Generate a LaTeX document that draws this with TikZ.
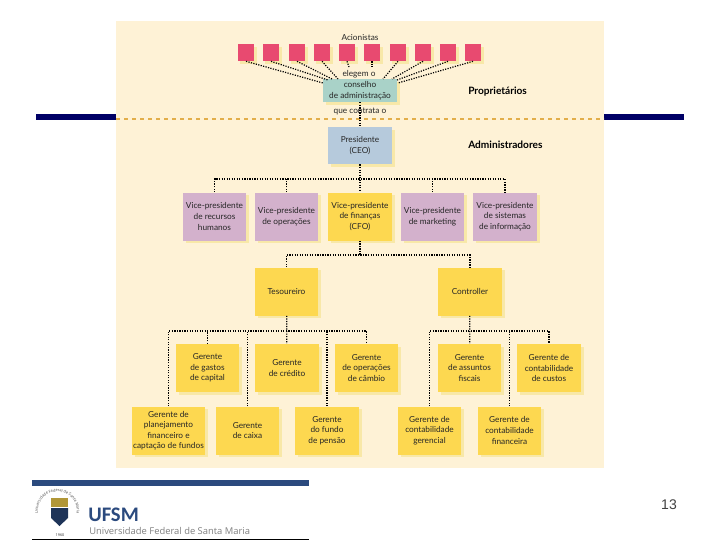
\documentclass[tikz,border=0pt]{standalone}
\usepackage{fontspec}
\usepackage{xcolor}
\usetikzlibrary{arrows.meta,positioning,shadows,decorations.text}
\setmainfont{Lato}
\newfontfamily\logofont{Open Sans}
\newfontfamily\siglafont{Carlito}
\newfontfamily\numfont{Liberation Sans}
\definecolor{fundo}{HTML}{FEF2D6}
\definecolor{amarelo}{HTML}{FDD850}
\definecolor{sombra}{HTML}{F8E8A8}
\definecolor{lilas}{HTML}{D3B1CC}
\definecolor{azulc}{HTML}{B6CADC}
\definecolor{verdec}{HTML}{A9D2C8}
\definecolor{rosa}{HTML}{E84A70}
\definecolor{marinho}{HTML}{000066}
\definecolor{ufsm}{HTML}{2B4A7E}
\definecolor{tracos}{HTML}{E2AE4A}

\begin{document}
\begin{tikzpicture}[x=0.75pt, y=-0.75pt, font=\fontsize{6.2}{7.9}\selectfont,
    caixa/.style={inner sep=0pt, align=center, text=black!85, minimum width=47.5pt, minimum height=36pt,
      drop shadow={shadow xshift=2.2pt, shadow yshift=-2.2pt, fill=sombra, opacity=1}},
    vice/.style={caixa, fill=lilas},
    gerente/.style={caixa, fill=amarelo},
    acao/.style={inner sep=0pt, minimum width=12.4pt, minimum height=12.8pt, fill=rosa,
      drop shadow={shadow xshift=2pt, shadow yshift=-2pt, fill=sombra, opacity=1}},
    rotulo/.style={inner sep=0pt, text=black!85},
    grupo/.style={inner sep=0pt, anchor=west, font=\fontsize{7.6}{9}\selectfont\bfseries},
    lig/.style={line width=0.9pt, densely dotted}]
    \useasboundingbox (0,0) rectangle (720,540);

    % Fundo e barras
    \fill[marinho] (36,114) rectangle (684,120);
    \fill[fundo] (116,21) rectangle (604,468);
    \draw[tracos, line width=0.8pt, dashed] (116,119) -- (604,119);

    % Acionistas
    \node (acionistas) at (360,37.5) [rotulo] {Acionistas};
    \node (s1) at (246,52.5) [acao] {};
    \node (s2) at (271,52.5) [acao] {};
    \node (s3) at (297,52.5) [acao] {};
    \node (s4) at (322,52.5) [acao] {};
    \node (s5) at (347,52.5) [acao] {};
    \node (s6) at (372,52.5) [acao] {};
    \node (s7) at (398,52.5) [acao] {};
    \node (s8) at (423,52.5) [acao] {};
    \node (s9) at (448,52.5) [acao] {};
    \node (s10) at (473,52.5) [acao] {};

    \node (cons) at (360,90.5) [caixa, fill=verdec, minimum width=55.5pt, minimum height=17.2pt] {conselho\\de administração};
    \node (pres) at (360,145.5) [caixa, fill=azulc, minimum width=48pt, minimum height=28pt] {Presidente\\(CEO)};
    \node (elegem) at (359,74) [rotulo] {elegem o};
    \node (prop) at (468,92) [grupo] {Proprietários};
    \node (adm) at (468,145) [grupo] {Administradores};

    \coordinate (c1) at (323,83);
    \coordinate (c2) at (328,80);
    \coordinate (c3) at (332,79);
    \coordinate (c4) at (338,79);
    \coordinate (c5) at (349,67);
    \coordinate (c6) at (372,67);
    \coordinate (c7) at (383,79);
    \coordinate (c8) at (392,79);
    \coordinate (c9) at (397,80);
    \coordinate (c10) at (398,83);
    \draw[lig] (s1.south) -- (c1);
    \draw[lig] (s2.south) -- (c2);
    \draw[lig] (s3.south) -- (c3);
    \draw[lig] (s4.south) -- (c4);
    \draw[lig] (s5.south) -- (c5);
    \draw[lig] (s6.south) -- (c6);
    \draw[lig] (s7.south) -- (c7);
    \draw[lig] (s8.south) -- (c8);
    \draw[lig] (s9.south) -- (c9);
    \draw[lig] (s10.south) -- (c10);
    \draw[lig] (cons) -- (pres);
    \node (contrata) at (360,111.5) [rotulo] {que contrata o};

    % Vice-presidentes
    \node (vp1) at (214.5,216.5) [vice] {Vice-presidente\\de recursos\\humanos};
    \node (vp2) at (286.5,216.5) [vice] {Vice-presidente\\de operações};
    \node (vp3) at (360,216.5) [gerente] {Vice-presidente\\de finanças\\(CFO)};
    \node (vp4) at (432.5,216.5) [vice] {Vice-presidente\\de marketing};
    \node (vp5) at (505,216.5) [vice] {Vice-presidente\\de sistemas\\de informação};

    \coordinate (bp) at (360,179);
    \draw[lig] (pres) -- (vp3);
    \draw[lig] (vp1.north) |- (bp) -| (vp5.north);
    \draw[lig] (vp2.north) -- (vp2.north |- bp);
    \draw[lig] (vp4.north) -- (vp4.north |- bp);

    % Tesoureiro e controller
    \node (tes) at (286.5,291.5) [gerente] {Tesoureiro};
    \node (ctr) at (470,291.5) [gerente] {Controller};

    \coordinate (bf) at (360,255);
    \draw[lig] (vp3) -- (bf);
    \draw[lig] (tes.north) |- (bf) -| (ctr.north);

    % Gerentes do tesoureiro
    \node (g1) at (207.5,368) [gerente] {Gerente\\de gastos\\de capital};
    \node (g2) at (287,368) [gerente] {Gerente\\de crédito};
    \node (g3) at (366.5,368) [gerente] {Gerente\\de operações\\de câmbio};
    \node (g4) at (168.5,430.5) [gerente, minimum width=54.7pt] {Gerente de\\planejamento\\financeiro e\\captação de fundos};
    \node (g5) at (247.5,430.5) [gerente] {Gerente\\de caixa};
    \node (g6) at (327,430.5) [gerente] {Gerente\\do fundo\\de pensão};

    \coordinate (bt) at (287,331);
    \draw[lig] (tes) -- (g2);
    \draw[lig] (g4.north) |- (bt) -| (g3.north);
    \draw[lig] (g1.north) -- (g1.north |- bt);
    \draw[lig] (g5.north) -- (g5.north |- bt);
    \draw[lig] (g6.north) -- (g6.north |- bt);

    % Gerentes do controller
    \node (g7) at (469.5,368) [gerente] {Gerente\\de assuntos\\fiscais};
    \node (g8) at (549,368) [gerente] {Gerente de\\contabilidade\\de custos};
    \node (g9) at (429.5,430.5) [gerente] {Gerente de\\contabilidade\\gerencial};
    \node (g10) at (509.5,430.5) [gerente] {Gerente de\\contabilidade\\financeira};

    \coordinate (bc) at (469.5,331);
    \draw[lig] (ctr) -- (g7);
    \draw[lig] (g9.north) |- (bc) -| (g8.north);
    \draw[lig] (g10.north) -- (g10.north |- bc);

    % Rodape
    \fill[ufsm] (32,480) rectangle (309,486);
    \draw[black, line width=0.6pt] (32,539) -- (309,539);
    \fill[amarelo!70!black] (51,498) rectangle (68,507);
    \fill[ufsm!70!black] (51,508) -- (68,508) -- (68,518) -- (59.5,526) -- (51,518) -- cycle;
    \path[postaction={decorate}, decoration={text along path, text align=center,
      text={|\logofont\fontsize{2.9}{3}\selectfont\color{black!70}|Universidade Federal de Santa Maria}}]
      (47.7,528) arc[start angle=120, end angle=420, radius=19.5];
    \node (ano) at (60,535.5) [rotulo, font=\logofont\fontsize{2.8}{3}\selectfont] {1960};
    \node (sigla) at (88,514.5) [inner sep=0pt, anchor=west, text=ufsm, font=\siglafont\fontsize{15.5}{16}\selectfont\bfseries] {UFSM};
    \node (nome) at (89,531) [inner sep=0pt, anchor=west, text=black!50, font=\logofont\fontsize{7.05}{9}\selectfont] {Universidade Federal de Santa Maria};
    \node (pagina) at (669,505) [inner sep=0pt, text=black!75, font=\numfont\fontsize{10.5}{12}\selectfont] {13};
\end{tikzpicture}
\end{document}
